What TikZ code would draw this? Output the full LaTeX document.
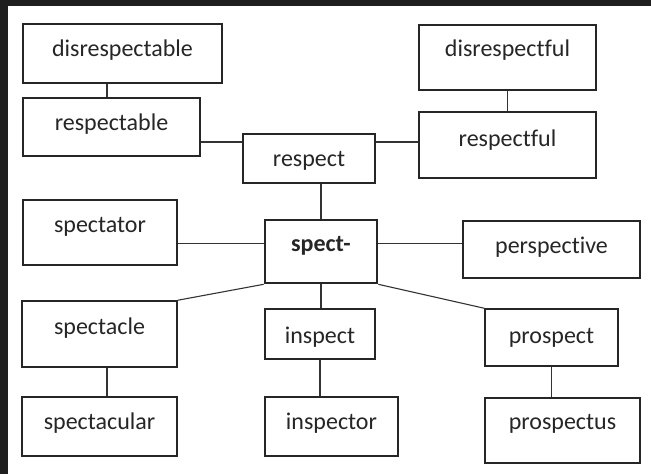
\documentclass[tikz,border=0pt]{standalone}
\usepackage{fontspec}
\setmainfont{Carlito}[Ligatures=NoCommon]

\begin{document}
\begin{tikzpicture}[
		x=1pt, y=-1pt,
		box/.style={rectangle, draw=black!85, line width=1.5pt, inner sep=0pt},
		word/.style={draw=none, anchor=base, inner sep=0pt, text=black!85, font=\fontsize{24}{28}\selectfont},
		link/.style={draw=black!80, line width=1.1pt}
	]
  \useasboundingbox (0,0) rectangle (651,474);
  \fill [black!88] (0,0) rectangle (651,474);
  \fill [white] (8,6) rectangle (651,474);

  \node (disrespectable) [box, minimum width=199pt, minimum height=59pt] at (122.5, 53.5) {};
  \node (disrespectable_label) [word] at (122.5, 56) {disrespectable};
  \node (respectable) [box, minimum width=177pt, minimum height=58pt] at (111.5, 127) {};
  \node (respectable_label) [word] at (111.5, 130) {respectable};
  \node (respect) [box, minimum width=132pt, minimum height=49pt] at (309, 158.5) {};
  \node (respect_label) [word] at (309, 166) {respect};
  \node (disrespectful) [box, minimum width=177pt, minimum height=65pt] at (507.5, 57.5) {};
  \node (disrespectful_label) [word] at (507.5, 56) {disrespectful};
  \node (respectful) [box, minimum width=177pt, minimum height=66pt] at (507.5, 145) {};
  \node (respectful_label) [word] at (507.5, 146) {respectful};
  \node (spectator) [box, minimum width=154pt, minimum height=65pt] at (100, 232.5) {};
  \node (spectator_label) [word] at (100, 232) {spectator};
  \node (spect) [box, line width=2.6pt, minimum width=112pt, minimum height=63pt] at (321, 251.5) {};
  \node (spect_label) [word, font=\fontsize{24}{28}\selectfont\bfseries] at (321, 251) {spect-};
  \node (perspective) [box, minimum width=177pt, minimum height=57pt] at (551.5, 249.5) {};
  \node (perspective_label) [word] at (551.5, 253) {perspective};
  \node (spectacle) [box, minimum width=155pt, minimum height=66pt] at (99.5, 334) {};
  \node (spectacle_label) [word] at (99.5, 334) {spectacle};
  \node (inspect) [box, minimum width=110pt, minimum height=50pt] at (320, 334) {};
  \node (inspect_label) [word] at (320, 343) {inspect};
  \node (prospect) [box, minimum width=133pt, minimum height=57pt] at (551.5, 337.5) {};
  \node (prospect_label) [word] at (551.5, 343) {prospect};
  \node (spectacular) [box, minimum width=155pt, minimum height=59pt] at (99.5, 426.5) {};
  \node (spectacular_label) [word] at (99.5, 429) {spectacular};
  \node (inspector) [box, minimum width=133pt, minimum height=59pt] at (331.5, 426.5) {};
  \node (inspector_label) [word] at (331.5, 429) {inspector};
  \node (prospectus) [box, minimum width=155pt, minimum height=65pt] at (562.5, 430.5) {};
  \node (prospectus_label) [word] at (562.5, 429) {prospectus};

  \draw [link] ([xshift=-4.5pt]respectable.north) -- ([xshift=-4.5pt]respectable.north |- disrespectable.south);
  \draw [link] ([yshift=-15pt]respectable.east) -- ([yshift=-15pt]respectable.east -| respect.west);
  \draw [link] ([yshift=3pt]respectful.west) -- ([yshift=3pt]respectful.west -| respect.east);
  \draw [link] (respectful.north) -- (respectful.north |- disrespectful.south);
  \draw [link] (spect.north) -- (spect.north |- respect.south);
  \draw [link] ([yshift=8pt]spect.west) -- ([yshift=8pt]spect.west -| spectator.east);
  \draw [link] ([yshift=8pt]spect.east) -- ([yshift=8pt]spect.east -| perspective.west);
  \draw [link] (spect.south west) -- (spectacle.north east);
  \draw [link] (spect.south) -- (spect.south |- inspect.north);
  \draw [link] (spect.south east) -- (prospect.north west);
  \draw [link] ([xshift=7.5pt]spectacle.south) -- ([xshift=7.5pt]spectacle.south |- spectacular.north);
  \draw [link] (inspect.south) -- (inspect.south |- inspector.north);
  \draw [link] (prospect.south) -- (prospect.south |- prospectus.north);
\end{tikzpicture}
\end{document}
